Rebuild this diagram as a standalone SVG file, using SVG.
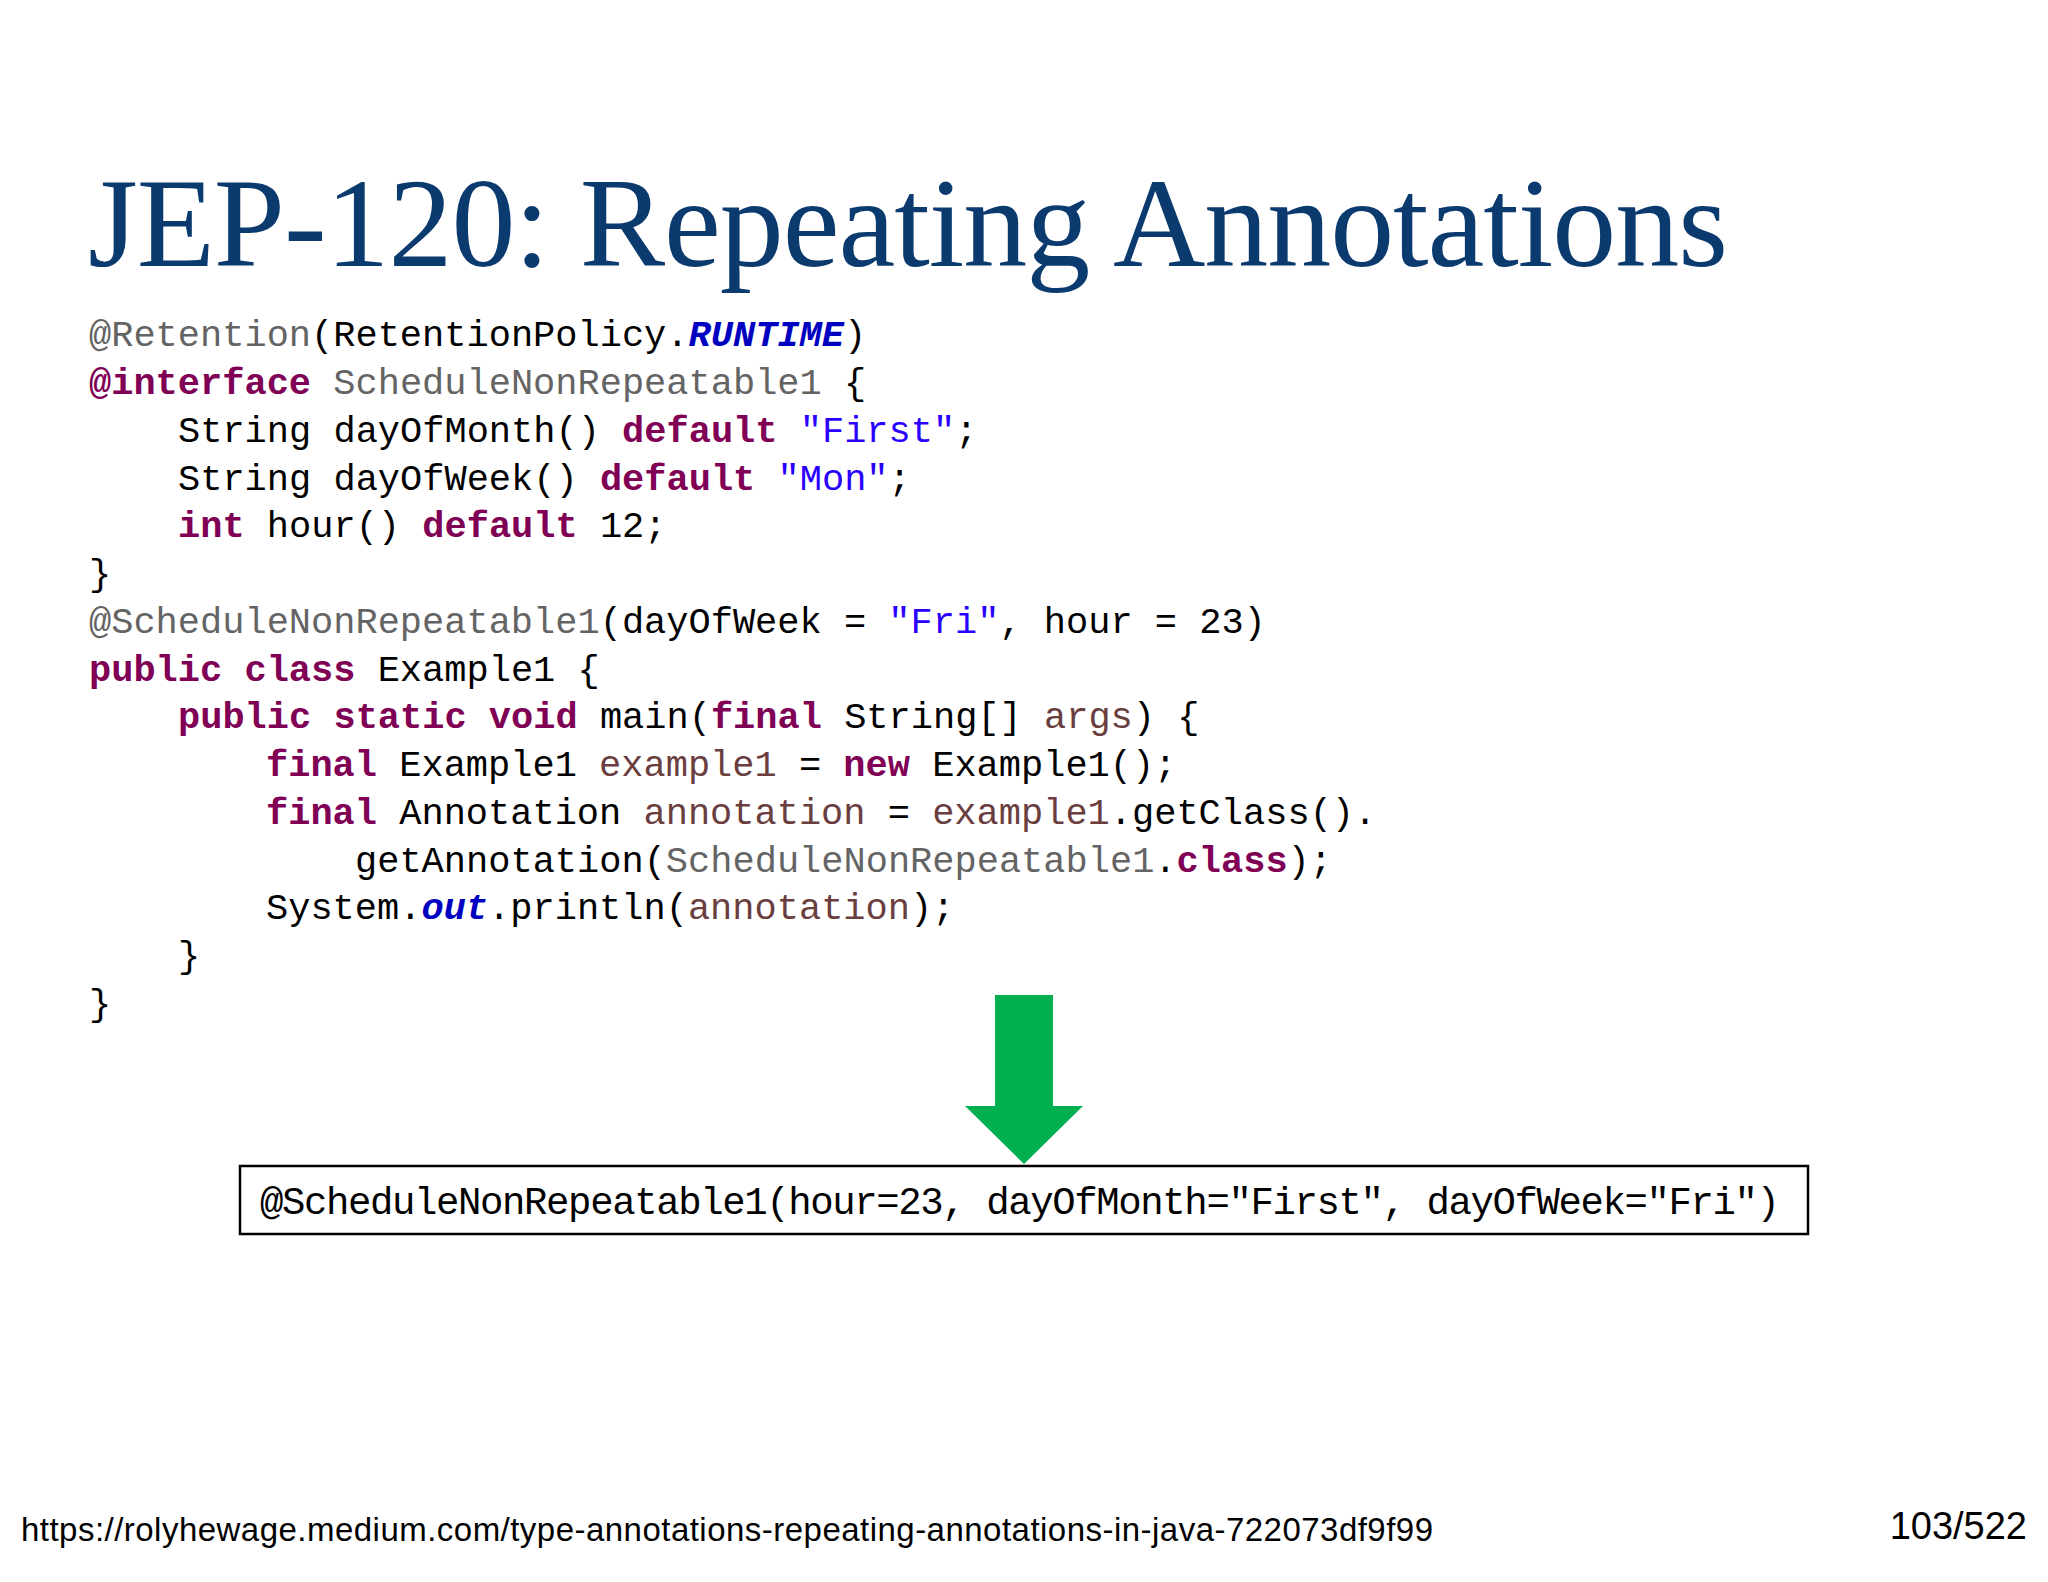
<svg xmlns="http://www.w3.org/2000/svg" width="2048" height="1582" viewBox="0 0 2048 1582">
<style>
.c{font-family:"Liberation Mono","DejaVu Sans Mono",monospace;font-size:37px;fill:#000;white-space:pre}
.k{fill:#7f0055;font-weight:bold}
.a{fill:#646464}
.s{fill:#2a00ff}
.f{fill:#0000c0;font-weight:bold;font-style:italic}
.v{fill:#6a3e3e}
</style>
<rect width="2048" height="1582" fill="#fff"/>
<g id="title"><text x="88" y="266" font-family="Liberation Serif,serif" font-size="128" fill="#0b3a6e" textLength="1640">JEP-120: Repeating Annotations</text></g>
<g id="code" class="c">
<text x="89" y="346"><tspan class="a">@Retention</tspan>(RetentionPolicy.<tspan class="f">RUNTIME</tspan>)</text>
<text x="89" y="394"><tspan class="k">@interface</tspan> <tspan class="a">ScheduleNonRepeatable1</tspan> {</text>
<text x="178" y="442">String dayOfMonth() <tspan class="k">default</tspan> <tspan class="s">"First"</tspan>;</text>
<text x="178" y="490">String dayOfWeek() <tspan class="k">default</tspan> <tspan class="s">"Mon"</tspan>;</text>
<text x="178" y="537"><tspan class="k">int</tspan> hour() <tspan class="k">default</tspan> 12;</text>
<text x="89" y="585">}</text>
<text x="89" y="633"><tspan class="a">@ScheduleNonRepeatable1</tspan>(dayOfWeek = <tspan class="s">"Fri"</tspan>, hour = 23)</text>
<text x="89" y="681"><tspan class="k">public class</tspan> Example1 {</text>
<text x="178" y="728"><tspan class="k">public static void</tspan> main(<tspan class="k">final</tspan> String[] <tspan class="v">args</tspan>) {</text>
<text x="266" y="776"><tspan class="k">final</tspan> Example1 <tspan class="v">example1</tspan> = <tspan class="k">new</tspan> Example1();</text>
<text x="266" y="824"><tspan class="k">final</tspan> Annotation <tspan class="v">annotation</tspan> = <tspan class="v">example1</tspan>.getClass().</text>
<text x="355" y="872">getAnnotation(<tspan class="a">ScheduleNonRepeatable1</tspan>.<tspan class="k">class</tspan>);</text>
<text x="266" y="919">System.<tspan class="f">out</tspan>.println(<tspan class="v">annotation</tspan>);</text>
<text x="178" y="967">}</text>
<text x="89" y="1015">}</text>
</g>
<g id="connectors"><polygon points="995,995 1053,995 1053,1106 1083,1106 1024,1164 965,1106 995,1106" fill="#00b050"/></g>
<g id="output"><rect x="240" y="1166" width="1568" height="68" fill="#fff" stroke="#000" stroke-width="2.5"/>
<text x="260" y="1214" class="c" style="font-size:39px" textLength="1520">@ScheduleNonRepeatable1(hour=23, dayOfMonth="First", dayOfWeek="Fri")</text></g>
<g id="footer" font-family="Liberation Sans,Arial,sans-serif" font-size="33" fill="#000">
<text x="21" y="1541" textLength="1412">https://rolyhewage.medium.com/type-annotations-repeating-annotations-in-java-722073df9f99</text>
<text x="2027" y="1539" text-anchor="end" font-size="38">103/522</text>
</g>
</svg>
